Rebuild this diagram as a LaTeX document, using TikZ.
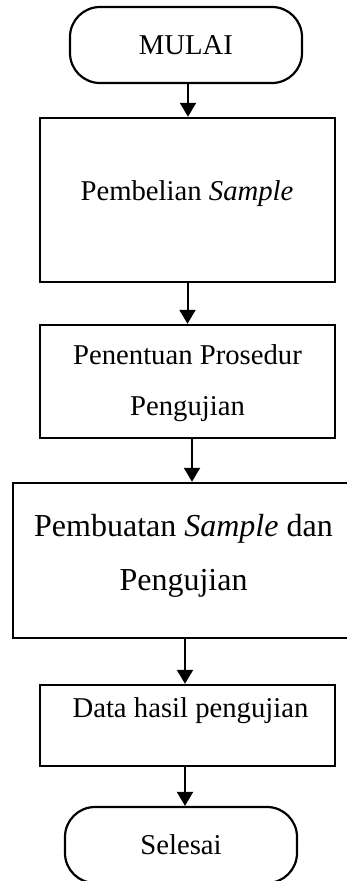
\documentclass[tikz,border=0pt]{standalone}
\usepackage{fontspec}
\setmainfont{Liberation Serif}
\usetikzlibrary{arrows.meta}

\begin{document}
\begin{tikzpicture}[x=1pt,y=-1pt]
\tikzset{
  terminal/.style={rectangle,draw=black,line width=2.2pt,rounded corners=30pt,minimum width=232pt,minimum height=76pt,inner sep=0pt,font=\fontsize{28.7}{51}\selectfont},
  stepbox/.style={rectangle,draw=black,line width=2.4pt,inner sep=0pt},
  steptext/.style={anchor=base,align=center,inner sep=0pt,font=\fontsize{28.7}{51}\selectfont},
  flow/.style={draw=black,line width=2pt,-{Triangle[length=14pt,width=16pt]}}
}
\useasboundingbox (0,0) rectangle (347,881);
\node[terminal] (n_mulai) at (186,45) {MULAI};
\node[stepbox,minimum width=295pt,minimum height=164pt] (n_beli) at (187.5,200) {};
\node[stepbox,minimum width=295pt,minimum height=113pt] (n_prosedur) at (187.5,381.5) {};
\node[stepbox,minimum width=341pt,minimum height=155pt] (n_buat) at (183.5,560.5) {};
\node[stepbox,minimum width=295pt,minimum height=81pt] (n_data) at (187.5,725.5) {};
\node[terminal] (n_selesai) at (181,845) {Selesai};
% base anchor sits on the last line
\node[steptext] (t_beli) at (187,200) {Pembelian \textit{Sample}};
\node[steptext] (t_prosedur) at (187.5,415) {Penentuan Prosedur\\Pengujian};
\node[steptext,font=\fontsize{32}{54}\selectfont] (t_buat) at (183.5,590) {Pembuatan \textit{Sample} dan\\Pengujian};
\node[steptext] (t_data) at (190.5,717) {Data hasil pengujian};
\draw[flow] ([xshift=2pt]n_mulai.south) -- ([xshift=2pt]n_mulai.south |- n_beli.north);
\draw[flow] (n_beli.south) -- (n_beli.south |- n_prosedur.north);
\draw[flow] ([xshift=4.5pt]n_prosedur.south) -- ([xshift=4.5pt]n_prosedur.south |- n_buat.north);
\draw[flow] ([xshift=1.5pt]n_buat.south) -- ([xshift=1.5pt]n_buat.south |- n_data.north);
\draw[flow] ([xshift=-2.5pt]n_data.south) -- ([xshift=-2.5pt]n_data.south |- n_selesai.north);
\end{tikzpicture}
\end{document}
